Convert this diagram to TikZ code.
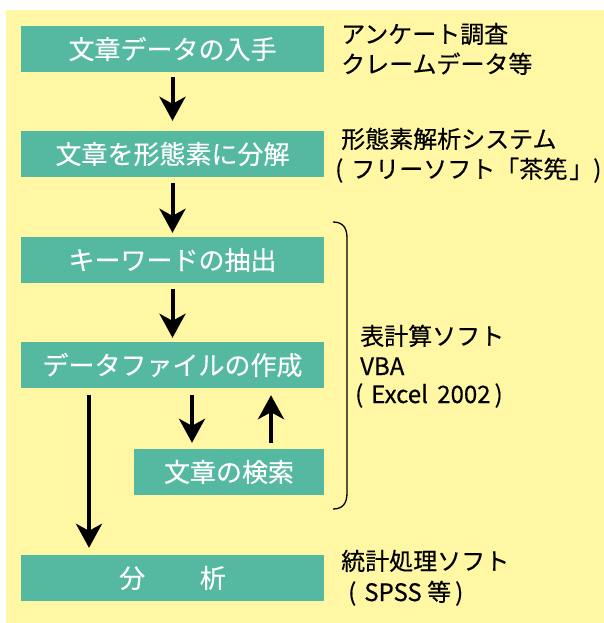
\documentclass[tikz,border=0pt]{standalone}
\usepackage{fontspec}
\setmainfont[FakeBold=0.4]{Noto Sans CJK JP}
\newfontfamily\boxfont[FakeBold=0.3]{Noto Sans CJK JP}
\usetikzlibrary{arrows.meta,calc}
\definecolor{bgyellow}{RGB}{255,247,163}
\definecolor{boxteal}{RGB}{84,185,160}
\tikzset{
  stepbox/.style={fill=boxteal, draw=none, inner sep=0pt, minimum height=46pt,
    text=white, font=\boxfont\fontsize{26}{28}\selectfont},
  widebox/.style={stepbox, minimum width=303pt},
  lbl/.style={anchor=base west, inner sep=0pt, text=black, font=\fontsize{24}{28}\selectfont},
  arr/.style={line width=4pt, -{Stealth[width=26pt,length=24pt,inset=7pt]}},
}
\begin{document}
\begin{tikzpicture}[x=1pt,y=-1pt]
\useasboundingbox (0,0) rectangle (604,623);
\fill[bgyellow] (6,10) rectangle (604,623);

\node[widebox] (b1) at (172.5,49) {文章データの入手};
\node[widebox] (b2) at (172.5,154) {文章を形態素に分解};
\node[widebox] (b3) at (172.5,260) {キーワードの抽出};
\node[widebox] (b4) at (172.5,365) {データファイルの作成};
\node[stepbox, minimum width=190pt] (b5) at (229,472) {文章の検索};
\node[widebox] (b6) at (172.5,578) {分\hspace{2.1em}析};

\draw[arr] ([yshift=-5pt]b1.south) -- ([yshift=10pt]b2.north);
\draw[arr] ([yshift=-6pt]b2.south) -- ([yshift=4pt]b3.north);
\draw[arr] ([yshift=-6pt]b3.south) -- ([yshift=4pt]b4.north);
\draw[arr] ([xshift=-83.5pt,yshift=-7pt]b4.south) -- ([xshift=-83.5pt,yshift=7pt]b6.north);
\draw[arr] ([xshift=19.5pt,yshift=-7pt]b4.south) -- ([xshift=-37pt,yshift=6pt]b5.north);
\draw[arr] ([xshift=42pt,yshift=6pt]b5.north) -- ([xshift=98.5pt,yshift=-7pt]b4.south);

\draw[line width=1.3pt] (333,222) .. controls (343,222) and (347,228) .. (347,238)
  -- (347,493) .. controls (347,503) and (343,509) .. (333,509);

\node[lbl] (l1a) at (341,43) {アンケート調査};
\node[lbl] (l1b) at (341,73) {クレームデータ等};
\node[lbl] (l2a) at (341,148) {形態素解析システム};
\node[lbl] (l2b) at (335,178) {(\kern8pt フリーソフト「茶筅\kern2pt 」)};
\node[lbl] (l3a) at (360,345) {表計算ソフト};
\node[lbl] (l3b) at (360,375) {VBA};
\node[lbl] (l3c) at (355,403) {(\kern8pt Excel\kern4pt{} 2002\kern4pt )};
\node[lbl] (l4a) at (341,570) {統計処理ソフト};
\node[lbl] (l4b) at (348,601) {(\kern8pt SPSS 等\kern4pt )};
\end{tikzpicture}
\end{document}
